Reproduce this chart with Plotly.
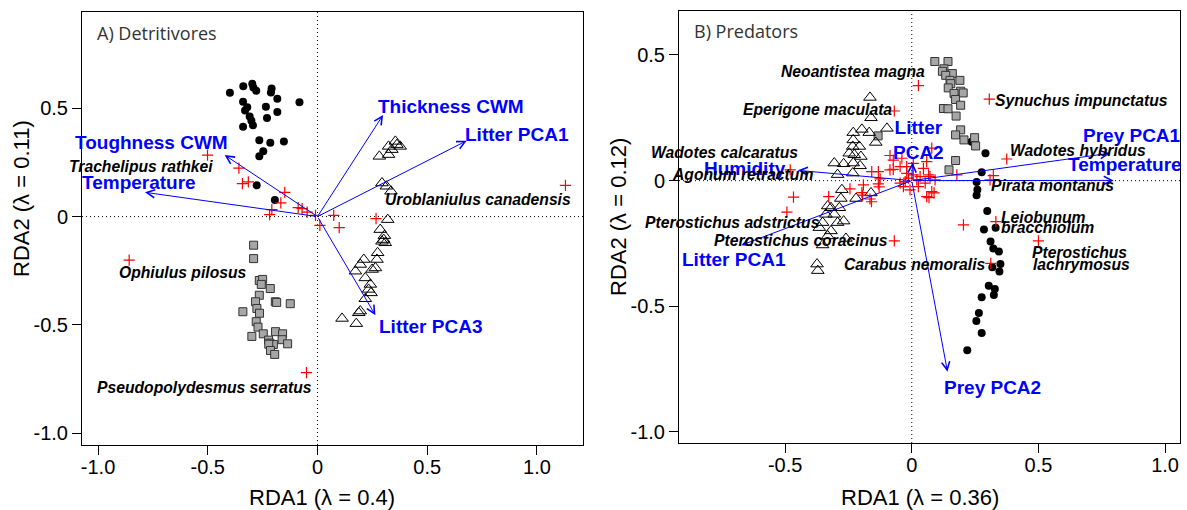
import plotly.graph_objects as go

# ================= Panel A: Detritivores =================
detA_circ_x = [-0.399, -0.338, -0.297, -0.279, -0.292, -0.209, -0.212, -0.183, -0.339, -0.320, -0.330,
               -0.235, -0.183, -0.309, -0.301, -0.230, -0.294, -0.339, -0.082, -0.265, -0.215, -0.153,
               -0.247, -0.265, -0.277, -0.194]
detA_circ_y = [0.571, 0.601, 0.613, 0.581, 0.596, 0.591, 0.573, 0.544, 0.530, 0.504, 0.490,
               0.507, 0.482, 0.462, 0.442, 0.455, 0.421, 0.415, 0.528, 0.352, 0.341, 0.346,
               0.301, 0.278, 0.144, 0.077]

detA_sq_x = [-0.291, -0.291, -0.265, -0.250, -0.256, -0.215, -0.265, -0.282, -0.192, -0.186, -0.124,
             -0.276, -0.264, -0.340, -0.279, -0.271, -0.247, -0.299, -0.191, -0.159, -0.223, -0.217,
             -0.201, -0.222, -0.161, -0.136, -0.214, -0.195]
detA_sq_y = [-0.132, -0.194, -0.295, -0.290, -0.313, -0.332, -0.363, -0.393, -0.393, -0.396, -0.402,
             -0.424, -0.446, -0.439, -0.485, -0.510, -0.541, -0.553, -0.531, -0.541, -0.570, -0.584,
             -0.590, -0.589, -0.568, -0.587, -0.618, -0.636]

detA_tri_x = [0.355, 0.362, 0.324, 0.377, 0.339, 0.324, 0.282, 0.294, 0.314, 0.335, 0.320, 0.286,
              0.302, 0.305, 0.294, 0.309, 0.274, 0.211, 0.195, 0.271, 0.249, 0.264, 0.173, 0.218,
              0.241, 0.233, 0.244, 0.218, 0.195, 0.188, 0.112, 0.177]
detA_tri_y = [0.347, 0.332, 0.324, 0.324, 0.309, 0.286, 0.278, 0.155, 0.140, 0.117, -0.014, -0.060,
              -0.106, -0.088, -0.114, -0.121, -0.167, -0.198, -0.221, -0.198, -0.244, -0.237, -0.252,
              -0.283, -0.313, -0.336, -0.352, -0.379, -0.436, -0.444, -0.470, -0.494]

detA_sp_x = [-0.501, -0.358, -0.342, -0.315, -0.149, -0.167, -0.208, -0.218, -0.088, -0.070, -0.047,
             -0.009, 0.074, 0.099, 0.011, -0.858, -0.050, 1.130, 0.267]
detA_sp_y = [0.284, 0.224, 0.152, 0.160, 0.112, 0.063, 0.032, 0.009, 0.041, 0.037, 0.021,
             0.006, 0.006, -0.051, -0.041, -0.201, -0.720, 0.144, -0.009]

detA_lab_text = ["Trachelipus rathkei", "Ophiulus pilosus", "Pseudopolydesmus serratus",
                 "Uroblaniulus canadensis"]
detA_lab_x = [-0.805, -0.611, -0.515, 0.731]
detA_lab_y = [0.230, -0.257, -0.787, 0.078]

detA_vec_names = ["Toughness CWM", "Temperature", "Thickness CWM", "Litter PCA1", "Litter PCA3"]
detA_vec_x = [-0.423, -0.786, 0.299, 0.680, 0.264]
detA_vec_y = [0.284, 0.112, 0.469, 0.350, -0.455]
detA_vlab_x = [-0.755, -0.814, 0.609, 0.911, 0.514]
detA_vlab_y = [0.342, 0.158, 0.508, 0.378, -0.505]

# ================= Panel B: Predators =================
predB_circ_x = [0.236, 0.291, 0.276, 0.256, 0.259, 0.256, 0.298, 0.285, 0.331, 0.311, 0.322, 0.344,
                0.350, 0.318, 0.346, 0.304, 0.328, 0.324, 0.276, 0.265, 0.255, 0.276, 0.219]
predB_circ_y = [0.155, 0.109, 0.033, -0.005, -0.036, -0.058, -0.121, -0.194, -0.187, -0.242, -0.270,
                -0.282, -0.332, -0.345, -0.362, -0.418, -0.431, -0.455, -0.464, -0.527, -0.559,
                -0.606, -0.675]

predB_sq_x = [0.091, 0.143, 0.127, 0.121, 0.160, 0.134, 0.151, 0.190, 0.154, 0.144, 0.193, 0.203,
              0.167, 0.173, 0.193, 0.125, 0.143, 0.175, 0.193, 0.173, 0.206, 0.248, 0.252, 0.173,
              0.147, -0.133]
predB_sq_y = [0.474, 0.474, 0.445, 0.435, 0.426, 0.419, 0.399, 0.399, 0.386, 0.369, 0.356, 0.349,
              0.347, 0.323, 0.300, 0.287, 0.286, 0.257, 0.202, 0.182, 0.162, 0.171, 0.138, 0.080,
              0.043, 0.178]

predB_tri_x = [-0.165, -0.161, -0.231, -0.197, -0.168, -0.098, -0.142, -0.231, -0.233, -0.207, -0.247,
               -0.227, -0.201, -0.306, -0.269, -0.231, -0.204, -0.293, -0.233, -0.161, -0.220, -0.280,
               -0.319, -0.286, -0.339, -0.306, -0.269, -0.293, -0.352, -0.365, -0.319, -0.332, -0.352,
               -0.260, -0.374, -0.371, -0.276, -0.332]
predB_tri_y = [0.331, 0.250, 0.191, 0.204, 0.191, 0.208, 0.152, 0.162, 0.136, 0.136, 0.109,
               0.103, 0.096, 0.070, 0.067, 0.070, 0.059, 0.024, 0.030, -0.049, -0.071, -0.071,
               -0.108, -0.108, -0.134, -0.134, -0.161, -0.167, -0.167, -0.187, -0.200, -0.220, -0.256,
               -0.230, -0.332, -0.358, -0.036, -0.101]

predB_sp_x = [0.026, -0.069, -0.480, -0.467, -0.493, -0.069, 0.312, 0.306, 0.375, 0.322, 0.332, 0.500,
              0.204, 0.309, 0.178,
              -0.086, -0.073, -0.158, -0.132, -0.086, -0.073, -0.046, -0.020, 0.006, 0.046, 0.059,
              -0.020, 0.006, 0.033, -0.013, 0.020, -0.026, -0.046, -0.125, -0.191, -0.197, -0.244,
              -0.165, -0.132, 0.053, 0.072, -0.039, 0.079, 0.066, -0.033, -0.007, 0.026, 0.092,
              0.079, 0.059, 0.068, 0.088, -0.328, -0.194, -0.159, -0.129]
predB_sp_y = [0.378, 0.277, 0.043, -0.066, -0.125, -0.240, -0.329, 0.324, 0.086, 0.020, -0.163, -0.240,
              -0.176, 0.003, 0.023,
              0.100, 0.082, 0.036, 0.036, 0.043, 0.045, 0.056, 0.056, 0.069, 0.049, 0.076,
              0.029, 0.023, 0.016, 0.010, 0.003, -0.004, -0.010, 0.007, -0.017, -0.048, -0.033,
              -0.073, -0.013, -0.010, 0.016, 0.089, 0.129, 0.023, -0.024, -0.037, -0.024, 0.003,
              -0.044, -0.064, -0.068, -0.049, -0.064, -0.058, -0.084, -0.025]

predB_lab_text = ["Neoantistea magna", "Eperigone maculata", "Wadotes calcaratus", "Agonum retractum",
                  "Pterostichus adstrictus", "Pterostichus coracinus", "Carabus nemoralis",
                  "Synuchus impunctatus", "Wadotes hybridus", "Pirata montanus", "Leiobunum",
                  "bracchiolum", "Pterostichus", "lachrymosus"]
predB_lab_x = [-0.233, -0.371, -0.738, -0.667, -0.709, -0.437, 0.013, 0.672, 0.656, 0.557, 0.520,
               0.537, 0.664, 0.670]
predB_lab_y = [0.435, 0.283, 0.111, 0.024, -0.165, -0.237, -0.332, 0.320, 0.120, -0.020, -0.147,
               -0.187, -0.285, -0.332]

predB_vec_names = ["Prey PCA1", "Temperature", "Litter<br>PCA2", "Humidity", "Litter PCA1", "Prey PCA2"]
predB_vec_x = [0.783, 0.797, 0.003, -0.450, -0.673, 0.141]
predB_vec_y = [0.109, 0.001, 0.072, 0.041, -0.257, -0.760]
predB_vlab_x = [0.869, 0.843, 0.028, -0.657, -0.703, 0.318]
predB_vlab_y = [0.178, 0.063, 0.162, 0.050, -0.312, -0.822]

W, H = 1187, 510
FONT = "Liberation Sans"

fig = go.Figure()


def add_points(xs, ys, xa, ya, marker):
    fig.add_trace(go.Scatter(x=xs, y=ys, mode="markers", marker=marker, xaxis=xa, yaxis=ya,
                             showlegend=False, hoverinfo="skip"))


circ = dict(symbol="circle", size=8, color="black", line=dict(width=0))
sq = dict(symbol="square", size=8, color="#a6a6a6", line=dict(width=1, color="#333333"))
tri = dict(symbol="triangle-up-open", size=11, color="black", line=dict(width=1, color="black"))
crs = dict(symbol="cross-thin-open", size=8, color="red", line=dict(width=1.2, color="red"))

for xa, ya, cx, cy, sx, sy, tx, ty, px, py in [
    ("x", "y", detA_circ_x, detA_circ_y, detA_sq_x, detA_sq_y, detA_tri_x, detA_tri_y, detA_sp_x, detA_sp_y),
    ("x2", "y2", predB_circ_x, predB_circ_y, predB_sq_x, predB_sq_y, predB_tri_x, predB_tri_y, predB_sp_x, predB_sp_y),
]:
    add_points(cx, cy, xa, ya, circ)
    add_points(sx, sy, xa, ya, sq)
    add_points(tx, ty, xa, ya, tri)
    add_points(px, py, xa, ya, crs)

annotations = []
for xa, ya, names, vx, vy, lx, ly in [
    ("x", "y", detA_vec_names, detA_vec_x, detA_vec_y, detA_vlab_x, detA_vlab_y),
    ("x2", "y2", predB_vec_names, predB_vec_x, predB_vec_y, predB_vlab_x, predB_vlab_y),
]:
    for n, x, y, tx, ty in zip(names, vx, vy, lx, ly):
        annotations.append(dict(x=x, y=y, ax=0, ay=0, xref=xa, yref=ya, axref=xa, ayref=ya,
                                text="", showarrow=True, arrowhead=5, arrowsize=1.6,
                                arrowwidth=1, arrowcolor="#0000ff", standoff=0, startstandoff=0))
        annotations.append(dict(x=tx, y=ty, xref=xa, yref=ya, text="<b>%s</b>" % n, showarrow=False,
                                xanchor="center", yanchor="middle",
                                font=dict(family=FONT, size=19, color="#0000ff"),
                                align="center"))

for xa, ya, texts, lx, ly in [
    ("x", "y", detA_lab_text, detA_lab_x, detA_lab_y),
    ("x2", "y2", predB_lab_text, predB_lab_x, predB_lab_y),
]:
    for t, x, y in zip(texts, lx, ly):
        annotations.append(dict(x=x, y=y, xref=xa, yref=ya, text="<b><i>%s</i></b>" % t,
                                xanchor="center", yanchor="middle",
                                showarrow=False, font=dict(family=FONT, size=15.7, color="black")))

# panel titles
annotations.append(dict(x=95 / W, y=1 - 32.5 / H, xref="paper", yref="paper", xanchor="left",
                        yanchor="middle", text="A) Detritivores", showarrow=False,
                        font=dict(family="Open Sans", size=18, color="#333333")))
annotations.append(dict(x=692 / W, y=1 - 30.5 / H, xref="paper", yref="paper", xanchor="left",
                        yanchor="middle", text="B) Predators", showarrow=False,
                        font=dict(family="Open Sans", size=18, color="#333333")))
# axis titles
for txt, px_, py_, ang in [("RDA1 (λ = 0.4)", 322, 497, 0), ("RDA1 (λ = 0.36)", 920, 497, 0),
                           ("RDA2 (λ = 0.11)", 22, 199, -90), ("RDA2 (λ = 0.12)", 618, 217, -90)]:
    annotations.append(dict(x=px_ / W, y=1 - py_ / H, xref="paper", yref="paper", text=txt,
                            xanchor="center", yanchor="middle", textangle=ang, showarrow=False,
                            font=dict(family=FONT, size=22, color="black")))

shapes = []
for xa, ya in [("x", "y"), ("x2", "y2")]:
    shapes.append(dict(type="line", xref=xa, yref=ya + " domain", x0=0, x1=0, y0=0, y1=1,
                       line=dict(color="black", width=1, dash="1px,3px"), layer="below"))
    shapes.append(dict(type="line", xref=xa + " domain", yref=ya, x0=0, x1=1, y0=0, y1=0,
                       line=dict(color="black", width=1, dash="1px,3px"), layer="below"))

axis_common = dict(showgrid=False, zeroline=False, showline=True, mirror=True, linecolor="black",
                   linewidth=1, ticks="outside", ticklen=9, tickcolor="black", tickwidth=1,
                   tickfont=dict(family=FONT, size=20, color="black"))

fig.update_layout(
    width=W, height=H, margin=dict(l=0, r=0, t=0, b=0),
    plot_bgcolor="white", paper_bgcolor="white",
    xaxis=dict(domain=[82 / W, 583 / W], range=[-1.073, 1.210], anchor="y", ticklabelstandoff=-5,
               tickvals=[-1, -0.5, 0, 0.5, 1], ticktext=["-1.0", "-0.5", "0", "0.5", "1.0"], **axis_common),
    yaxis=dict(domain=[(H - 445) / H, (H - 12) / H], range=[-1.054, 0.944], anchor="x",
               tickvals=[-1, -0.5, 0, 0.5], ticktext=["-1.0", "-0.5", "0", "0.5"], **axis_common),
    xaxis2=dict(domain=[679 / W, 1180 / W], range=[-0.919, 1.059], anchor="y2", ticklabelstandoff=-5,
                tickvals=[-0.5, 0, 0.5, 1], ticktext=["-0.5", "0", "0.5", "1.0"], **axis_common),
    yaxis2=dict(domain=[(H - 443) / H, (H - 11) / H], range=[-1.044, 0.675], anchor="x2",
                tickvals=[-1, -0.5, 0, 0.5], ticktext=["-1.0", "-0.5", "0", "0.5"], **axis_common),
    annotations=annotations, shapes=shapes,
)

fig.write_html("out.html", config={"displayModeBar": False},
               post_script="document.body.style.margin='0';document.body.style.overflow='hidden';")
